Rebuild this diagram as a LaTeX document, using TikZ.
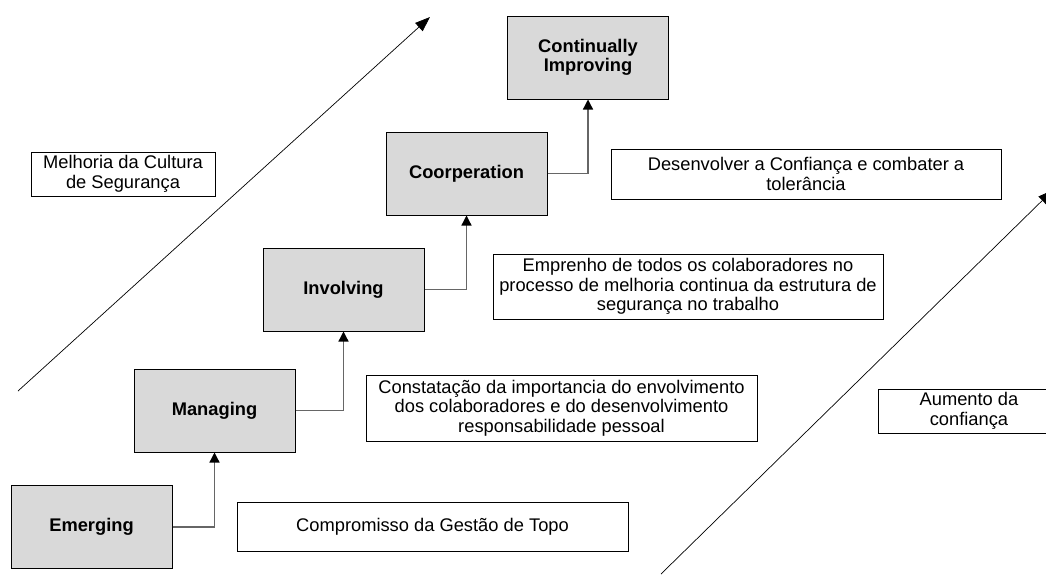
\documentclass[tikz,border=0pt]{standalone}
\usepackage{fontspec}
\setmainfont{Liberation Sans}
\usetikzlibrary{arrows.meta}

\begin{document}
\begin{tikzpicture}[
		x=1pt, y=-1pt,
		every node/.style={rectangle, draw, line width=1pt, inner sep=2pt, align=center, font=\fontsize{18.3pt}{19.5pt}\selectfont},
		stage/.style={fill=black!15, minimum width=161pt, minimum height=83pt, font=\fontsize{18.3pt}{19.5pt}\selectfont\bfseries},
		note/.style={fill=white},
		link/.style={draw=black!60, line width=1.3pt, -{Triangle[length=10pt, width=10pt, color=black]}},
		rise/.style={line width=0.7pt, -{Triangle[length=15pt, width=11pt]}}
	]
  \useasboundingbox (0,0) rectangle (1046,574);
  \clip (0,0) rectangle (1046,574);
  \node (emerging) [stage] at (91.5, 527) {Emerging};
  \node (managing) [stage] at (214.5, 410.5) {Managing};
  \node (involving) [stage] at (343.5, 289.5) {Involving};
  \node (coorperation) [stage] at (466.5, 173.5) {Coorperation};
  \node (improving) [stage] at (588, 57.5) {Continually\\Improving};
  \node (melhoria) [note, minimum width=184pt, minimum height=44pt] at (123, 174) {Melhoria da Cultura\\de Segurança};
  \node (confianca) [note, minimum width=390pt, minimum height=50pt] at (806, 174) {Desenvolver a Confiança e combater a\\tolerância};
  \node (emprenho) [note, minimum width=390pt, minimum height=65pt] at (688, 286.5) {Emprenho de todos os colaboradores no\\processo de melhoria continua da estrutura de\\segurança no trabalho};
  \node (constatacao) [note, minimum width=391pt, minimum height=66pt] at (561.5, 408) {Constatação da importancia do envolvimento\\dos colaboradores e do desenvolvimento\\responsabilidade pessoal};
  \node (compromisso) [note, minimum width=391pt, minimum height=49pt] at (432.5, 526.5) {Compromisso da Gestão de Topo};
  \node (aumento) [note, minimum width=182pt, minimum height=44pt] at (969, 411) {Aumento da\\confiança};
  \coordinate (culture_low) at (18, 391);
  \coordinate (culture_high) at (430, 17);
  \coordinate (trust_low) at (661, 574);
  \coordinate (trust_high) at (1053, 190);
  \draw[link] (emerging) -| (managing);
  \draw[link] (managing) -| (involving);
  \draw[link] (involving) -| (coorperation);
  \draw[link] (coorperation) -| (improving);
  \draw[rise] (culture_low) -- (culture_high);
  \draw[rise] (trust_low) -- (trust_high);
\end{tikzpicture}
\end{document}
